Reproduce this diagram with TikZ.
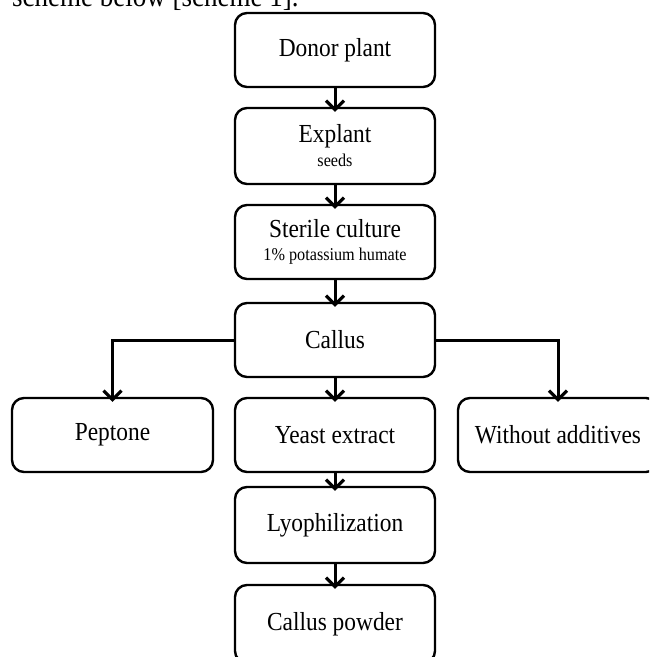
\documentclass[tikz,border=0pt]{standalone}
\usepackage{fontspec}
\setmainfont{Liberation Serif}[FakeStretch=0.9]
\usetikzlibrary{arrows.meta}
\newcommand{\fsz}[1]{\fontsize{#1}{#1}\selectfont}
\begin{document}
\begin{tikzpicture}[x=1pt,y=-1pt,
  box/.style={draw, line width=2.4pt, rounded corners=12pt, minimum width=200pt,
    minimum height=74pt, inner sep=0pt, align=center, font=\fsz{26}},
  conn/.style={line width=3pt, shorten >=-5pt,
    -{Straight Barb[length=9pt,width=18pt,line width=3.2pt]}}]
\useasboundingbox (0,0) rectangle (649,657);
\clip (0,0) rectangle (649,657);
\node[anchor=base west, font=\fsz{30}, inner sep=0pt] (head) at (12,6) {scheme below [scheme 1].};
\node[box] (donor) at (335,50) {Donor plant};
\node[box, minimum height=76pt] (explant) at (335,146) {Explant\\[-2pt]{\fsz{18}seeds}};
\node[box] (sterile) at (335,242) {Sterile culture\\[-3pt]{\fsz{18}1\% potassium humate}};
\node[box] (callus) at (335,340) {Callus};
\node[box, minimum width=201pt] (peptone) at (112.5,435) {Peptone};
\node[box] (yeast) at (335,435) {Yeast extract};
\node[box] (without) at (558,435) {Without additives};
\node[box, minimum height=76pt] (lyo) at (335,525) {Lyophilization};
\node[box, minimum height=78pt] (powder) at (335,624) {Callus powder};
\draw[conn] (donor.south) -- (explant.north);
\draw[conn] (explant.south) -- (sterile.north);
\draw[conn] (sterile.south) -- (callus.north);
\draw[conn] (callus.south) -- (yeast.north);
\draw[conn] (callus.west) -| (peptone.north);
\draw[conn] (callus.east) -| (without.north);
\draw[conn] (yeast.south) -- (lyo.north);
\draw[conn] (lyo.south) -- (powder.north);
\end{tikzpicture}
\end{document}
